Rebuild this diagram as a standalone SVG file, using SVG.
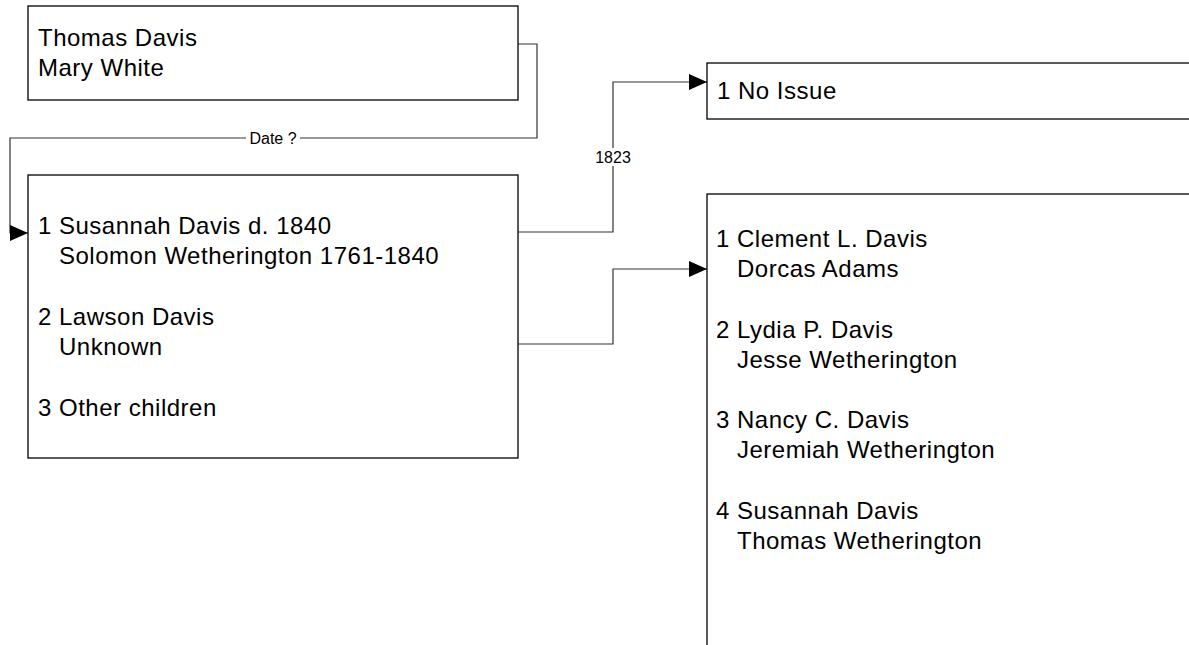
<svg xmlns="http://www.w3.org/2000/svg" width="1189" height="645" viewBox="0 0 1189 645">
<style>
.box{fill:#fff;stroke:#000;stroke-width:1.3}
.t{font-family:"Liberation Sans",Arial,sans-serif;font-size:24px;letter-spacing:0.5px;fill:#000}
.lbl{font-family:"Liberation Sans",Arial,sans-serif;font-size:16px;fill:#000;text-anchor:middle}
.c{fill:none;stroke:#333;stroke-width:1.2}
</style>
<defs>
<marker id="arr" markerUnits="userSpaceOnUse" markerWidth="18" markerHeight="17" refX="18" refY="8" orient="auto">
<path d="M0,0 L18,8 L0,16 z" fill="#000"/>
</marker>
</defs>
<rect width="1189" height="645" fill="#fff"/>
<g id="connectors">
<path class="c" d="M518,44 H537 V138 H10 V233 H28" marker-end="url(#arr)"/>
<rect x="246" y="130" width="54" height="16" fill="#fff"/>
<text class="lbl" x="273" y="144">Date ?</text>
<path class="c" d="M518,232 H613 V82 H707" marker-end="url(#arr)"/>
<rect x="593" y="148" width="40" height="18" fill="#fff"/>
<text class="lbl" x="613" y="163">1823</text>
<path class="c" d="M518,344 H613 V269 H707" marker-end="url(#arr)"/>
</g>
<g id="node-parents">
<rect class="box" x="28" y="6" width="490" height="94"/>
<text class="t" x="38" y="46">Thomas Davis</text>
<text class="t" x="38" y="76">Mary White</text>
</g>
<g id="node-children">
<rect class="box" x="28" y="175" width="490" height="283"/>
<text class="t" x="38" y="234">1 Susannah Davis d. 1840</text>
<text class="t" x="59" y="264">Solomon Wetherington 1761-1840</text>
<text class="t" x="38" y="325">2 Lawson Davis</text>
<text class="t" x="59" y="355">Unknown</text>
<text class="t" x="38" y="416">3 Other children</text>
</g>
<g id="node-noissue">
<rect class="box" x="707" y="63" width="500" height="56"/>
<text class="t" x="717" y="99">1 No Issue</text>
</g>
<g id="node-grandchildren">
<rect class="box" x="707" y="194" width="500" height="480"/>
<text class="t" x="716" y="247">1 Clement L. Davis</text>
<text class="t" x="737" y="277">Dorcas Adams</text>
<text class="t" x="716" y="338">2 Lydia P. Davis</text>
<text class="t" x="737" y="368">Jesse Wetherington</text>
<text class="t" x="716" y="428">3 Nancy C. Davis</text>
<text class="t" x="737" y="458">Jeremiah Wetherington</text>
<text class="t" x="716" y="519">4 Susannah Davis</text>
<text class="t" x="737" y="549">Thomas Wetherington</text>
</g>
</svg>
